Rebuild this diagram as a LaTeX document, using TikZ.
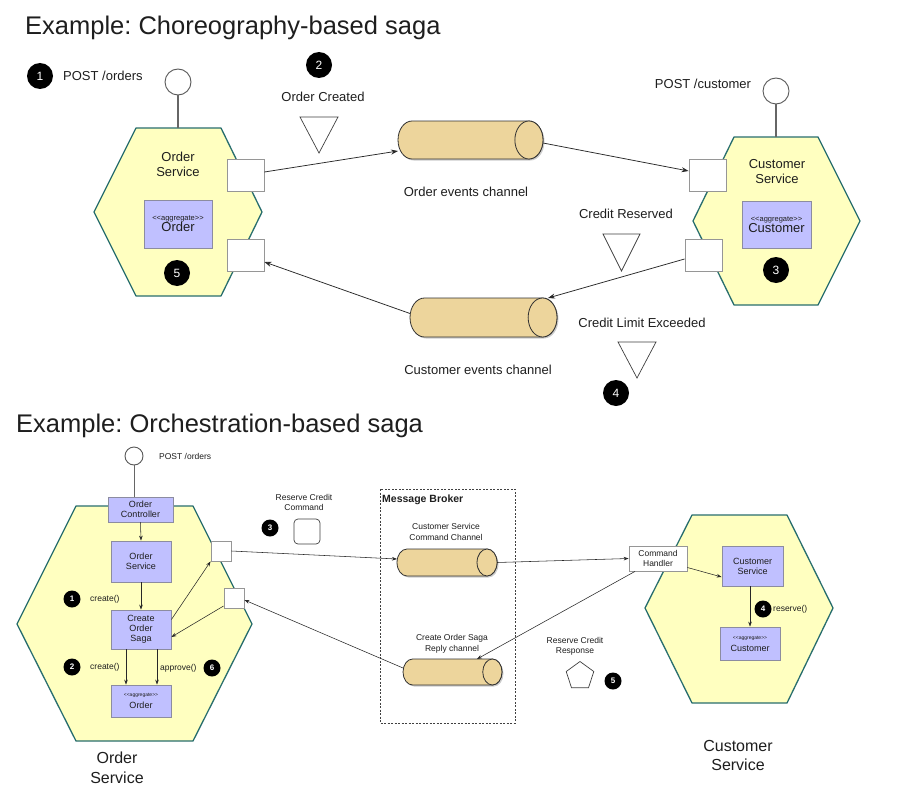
\documentclass[tikz,border=0pt]{standalone}
\usepackage{fontspec}
\setmainfont{Liberation Sans}
\usetikzlibrary{arrows.meta,shapes.geometric,calc}
\frenchspacing
\definecolor{hexy}{RGB}{255,255,192}
\definecolor{hexs}{RGB}{40,110,110}
\definecolor{lav}{RGB}{192,192,255}
\definecolor{lavs}{RGB}{140,140,160}
\definecolor{cylf}{RGB}{237,213,156}
\definecolor{cyls}{RGB}{50,50,50}
\definecolor{txt}{RGB}{30,30,30}
\definecolor{portg}{RGB}{150,150,150}
\definecolor{linec}{RGB}{40,40,40}
\newcommand\mkcyl[5]{%
 \pgfmathsetmacro\mycxa{#2-#4/2}\pgfmathsetmacro\mycxb{#2+#4/2}%
 \pgfmathsetmacro\mycya{#3-#5/2}\pgfmathsetmacro\mycyb{#3+#5/2}%
 \pgfmathsetmacro\mycrx{0.37*#5}\pgfmathsetmacro\mycry{#5/2}%
 \pgfmathsetmacro\mycxl{\mycxa+\mycrx}\pgfmathsetmacro\mycxr{\mycxb-\mycrx}%
 \fill[black,opacity=.2,shift={(1.5,1.5)}] (\mycxl,\mycya) -- (\mycxr,\mycya) arc[start angle=90,end angle=-90,x radius=\mycrx pt,y radius=\mycry pt] -- (\mycxl,\mycyb) arc[start angle=270,end angle=90,x radius=\mycrx pt,y radius=\mycry pt] -- cycle;
 \draw[cylst] (\mycxl,\mycya) -- (\mycxr,\mycya) arc[start angle=90,end angle=-90,x radius=\mycrx pt,y radius=\mycry pt] -- (\mycxl,\mycyb) arc[start angle=270,end angle=90,x radius=\mycrx pt,y radius=\mycry pt] -- cycle;
 \draw[cylst] (\mycxr,#3) ellipse[x radius=\mycrx pt,y radius=\mycry pt];
 \node[minimum width=#4pt, minimum height=#5pt, inner sep=0pt, outer sep=0pt] (#1) at (#2,#3) {};
}
\tikzset{
 cylst/.style={draw=cyls, fill=cylf, line width=0.8pt},
 lbl/.style={font=\fontsize{13}{15}\selectfont, align=center, text=txt, inner sep=0pt},
 slbl/.style={font=\fontsize{8.5}{10.5}\selectfont, align=center, text=txt, inner sep=0pt},
 biglbl/.style={font=\fontsize{16}{19.5}\selectfont, align=center, text=txt, inner sep=0pt},
 ttl/.style={font=\fontsize{25.5}{28}\selectfont, text=txt, inner sep=0pt, anchor=west},
 badge/.style={circle, fill=black, text=white, minimum size=26pt, inner sep=0pt, font=\fontsize{12}{12}\selectfont},
 sbadge/.style={circle, fill=black, text=white, minimum size=17pt, inner sep=0pt, font=\bfseries\fontsize{8}{8}\selectfont},
 iface/.style={circle, draw=black!65, fill=white, line width=0.9pt, inner sep=0pt},
 ifline/.style={draw=black!60, line width=1.1pt},
 port/.style={draw=portg, fill=white, line width=0.9pt, inner sep=0pt},
 agg/.style={draw=lavs, fill=lav, inner sep=0pt, align=center, text=txt, line width=0.8pt},
 hexst/.style={draw=hexs, fill=hexy, line width=1.3pt, line join=round},
 conn/.style={draw=linec, line width=0.75pt, -{Stealth[length=7pt,width=5pt]}},
 sconn/.style={draw=linec, line width=0.55pt, -{Stealth[length=5pt,width=3.6pt]}},
 evt/.style={draw=black!75, fill=white, line width=0.7pt, line join=miter},
}
\begin{document}
\begin{tikzpicture}[x=1pt,y=-1pt]
\useasboundingbox (0,0) rectangle (909,797);
\fill[white] (0,0) rectangle (909,797);

% ================= Choreography =================
\node[ttl] (t1) at (25,28) {Example: Choreography-based saga};

\node[badge] (b1) at (40,76) {1};
\node[lbl, anchor=west] (post1) at (63,76) {POST /orders};

% Order service hexagon
\draw[hexst] (136,128) -- (221,128) -- (262,212) -- (221,296) -- (136,296) -- (94,212) -- cycle;
\coordinate (hex1top) at (178,128);
\node[iface, minimum size=26pt] (if1) at (178,82) {};
\draw[ifline] (if1) -- (hex1top);
\node[lbl] (os1) at (178,164) {Order\\Service};
\node[agg, minimum width=68pt, minimum height=48pt] (agg1) at (178,224) {{\fontsize{7.5}{9}\selectfont {<}{<}aggregate{>}{>}}\\[-1pt]{\fontsize{13}{14}\selectfont Order}};
\node[badge] (b5) at (177,273) {5};
\node[port, minimum width=37pt, minimum height=32pt] (p1a) at (245.5,175) {};
\node[port, minimum width=37pt, minimum height=32pt] (p1b) at (245.5,255) {};

% Order created event
\node[badge] (b2) at (319,65) {2};
\node[lbl] (oc) at (323,97) {Order Created};
\draw[evt] (300,117) -- (338,117) -- (319,153) -- cycle;

% Order events channel
\mkcyl{cyl1}{470.5}{140}{145}{38}
\node[lbl] (cyl1l) at (466,192) {Order events channel};

% Customer service hexagon
\draw[hexst] (734,137) -- (818,137) -- (860,221) -- (818,305) -- (734,305) -- (693,221) -- cycle;
\coordinate (hex2top) at (776,137);
\node[iface, minimum size=26pt] (if2) at (776,91) {};
\draw[ifline] (if2) -- (hex2top);
\node[lbl] (postc) at (703,84) {POST /customer};
\node[lbl] (cs1) at (777,172) {Customer\\Service};
\node[agg, minimum width=69pt, minimum height=47pt] (agg2) at (776.5,224.5) {{\fontsize{7.5}{9}\selectfont {<}{<}aggregate{>}{>}}\\[-1pt]{\fontsize{13}{14}\selectfont Customer}};
\node[badge] (b3) at (776,270) {3};
\node[port, minimum width=37pt, minimum height=32pt] (p2a) at (707.5,175) {};
\node[port, minimum width=37pt, minimum height=32pt] (p2b) at (703.5,255) {};

% Credit events
\node[lbl] (cr) at (626,214) {Credit Reserved};
\draw[evt] (603,234) -- (640,234) -- (621.5,271) -- cycle;
\mkcyl{cyl2}{483.5}{317.5}{147}{39}
\node[lbl] (cyl2l) at (478,370) {Customer events channel};
\node[lbl] (cle) at (642,323) {Credit Limit Exceeded};
\draw[evt] (618,342) -- (656,342) -- (637,378) -- cycle;
\node[badge] (b4) at (616,393) {4};

% connectors
\draw[conn] ([yshift=3pt]p1a.east) -- ([yshift=-11pt]cyl1.west);
\draw[conn] ([yshift=-3pt]cyl1.east) -- ([yshift=4pt]p2a.west);
\draw[conn] ([yshift=-4pt]p2b.west) -- ([xshift=64.5pt]cyl2.north);
\draw[conn] ([yshift=4pt]cyl2.west) -- ([yshift=-7pt]p1b.east);

% ================= Orchestration =================
\node[ttl] (t2) at (16,426) {Example: Orchestration-based saga};

\node[iface, minimum size=18pt] (if3) at (134,456) {};
\node[slbl, anchor=west] (post3) at (159,456) {POST /orders};

\draw[hexst] (76,506) -- (193,506) -- (252,624) -- (193,741) -- (76,741) -- (17,624) -- cycle;

\node[agg, minimum width=65pt, minimum height=25pt, font=\fontsize{9}{10}\selectfont] (ctrl) at (140.5,509.5) {Order\\Controller};
\node[agg, minimum width=60pt, minimum height=41pt, font=\fontsize{9}{10}\selectfont] (osvc) at (141,561.5) {Order\\Service};
\node[agg, minimum width=60pt, minimum height=39pt, font=\fontsize{9}{10}\selectfont] (saga) at (141,629.5) {Create\\Order\\Saga};
\node[agg, minimum width=60pt, minimum height=32pt] (oagg) at (141,701) {{\fontsize{5}{6}\selectfont {<}{<}aggregate{>}{>}}\\{\fontsize{9}{10}\selectfont Order}};
\draw[ifline, line width=0.8pt] (if3) -- (if3 |- ctrl.north);
\draw[sconn] (ctrl.south) -- (osvc.north);
\draw[sconn] (osvc.south) -- (saga.north);
\draw[sconn] ([xshift=-15pt]saga.south) -- ([xshift=-15pt]oagg.north);
\draw[sconn] ([xshift=16pt]saga.south) -- ([xshift=16pt]oagg.north);

\node[sbadge] (ob1) at (72,599) {1};
\node[slbl, anchor=west] (cr1) at (90,599) {create()};
\node[sbadge] (ob2) at (72,667) {2};
\node[slbl, anchor=west] (cr2) at (90,667) {create()};
\node[slbl, anchor=west] (appr) at (160,668) {approve()};
\node[sbadge] (ob6) at (212,668) {6};

\node[port, minimum width=20pt, minimum height=20pt] (p3a) at (221,551) {};
\node[port, minimum width=20pt, minimum height=20pt] (p3b) at (234,598.5) {};
\draw[sconn] ([yshift=10pt]saga.east) -- (p3a.south west);
\draw[sconn] ([yshift=-7.5pt]p3b.west) -- ([yshift=-7.5pt]saga.east);

\node[biglbl] (osl) at (117,768) {Order\\Service};

% Reserve credit command
\node[slbl] (rcc) at (304,502.5) {Reserve Credit\\Command};
\node[sbadge] (ob3) at (270,528) {3};
\node[draw=black!75, fill=white, rounded corners=4pt, minimum width=26pt, minimum height=25pt, line width=0.7pt] (cmdmsg) at (307,531.5) {};

% Message broker
\draw[draw=black!75, line width=0.7pt, dash pattern=on 2pt off 1.5pt] (380,489) rectangle (515,723);
\node[anchor=west, inner sep=0pt, font=\bfseries\fontsize{10.5}{12}\selectfont, text=txt] (mb) at (382,500) {Message Broker};
\node[slbl] (c3l) at (446,532) {Customer Service\\Command Channel};
\mkcyl{cyl3}{447}{562.5}{100}{27}
\node[slbl] (c4l) at (452,644) {Create Order Saga\\Reply channel};
\mkcyl{cyl4}{452.5}{672}{99}{26}

% Customer service (bottom)
\draw[hexst] (692,515) -- (787,515) -- (833,608) -- (787,703) -- (692,703) -- (645,608) -- cycle;
\node[draw=portg, fill=white, inner sep=0pt, minimum width=58pt, minimum height=25pt, line width=0.8pt, align=center, font=\fontsize{8.5}{10}\selectfont, text=txt] (cmdh) at (658,558.5) {Command\\Handler};
\node[agg, minimum width=61pt, minimum height=40pt, font=\fontsize{9}{10}\selectfont] (csvc) at (752.5,566) {Customer\\Service};
\node[agg, minimum width=60pt, minimum height=33pt] (cagg) at (750,643.5) {{\fontsize{5}{6}\selectfont {<}{<}aggregate{>}{>}}\\{\fontsize{9}{10}\selectfont Customer}};
\draw[sconn] (csvc.south -| cagg) -- (cagg.north);
\node[sbadge] (ob4) at (763,609) {4};
\node[slbl, anchor=west] (res) at (773,609) {reserve()};

\node[slbl] (rcr) at (575,646.5) {Reserve Credit\\Response};
\node[regular polygon, regular polygon sides=5, draw=black!75, fill=white, minimum size=29pt, inner sep=0pt, line width=0.7pt] (pent) at (580,676) {};
\node[sbadge] (ob5) at (613,681) {5};

\node[biglbl] (csl) at (738,755.5) {Customer\\Service};

% connectors bottom
\draw[sconn] (p3a.east) -- ([yshift=3.5pt]cyl3.west);
\draw[sconn] (cyl3.east) -- (cmdh.west);
\draw[sconn] ([xshift=-23pt]cmdh.south) -- ([xshift=24.5pt]cyl4.north);
\draw[sconn] ([yshift=4pt]cyl4.west) -- ([yshift=-1.5pt]p3b.east);
\draw[sconn] ([yshift=-9pt]cmdh.east) -- ([yshift=-11pt]csvc.west);
\end{tikzpicture}
\end{document}
